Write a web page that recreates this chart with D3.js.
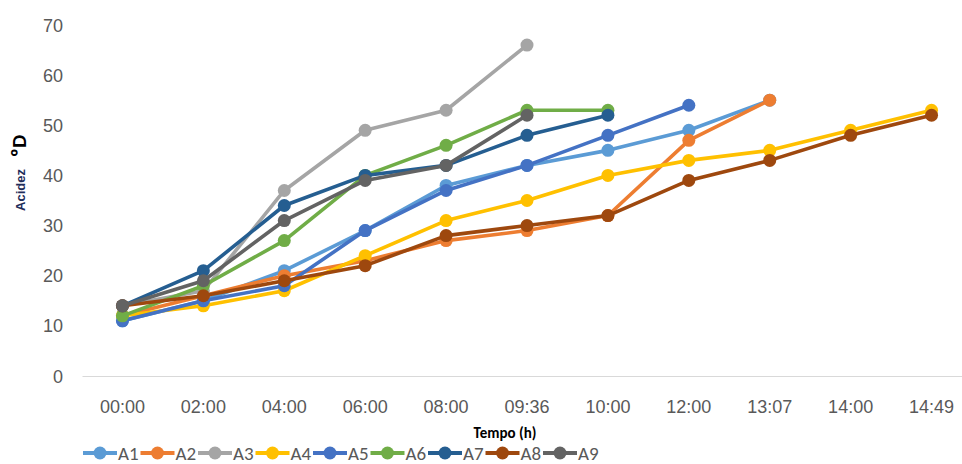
<!DOCTYPE html>
<html>
<head>
<meta charset="utf-8">
<script src="https://cdn.jsdelivr.net/npm/d3@7/dist/d3.min.js"></script>
<style>
  html, body { margin: 0; padding: 0; background: #fff; }
  svg { display: block; font-family: Calibri, Carlito, "Liberation Sans Narrow", "Liberation Sans", sans-serif; }
</style>
</head>
<body>
<svg id="chart" width="962" height="464"></svg>
<script>
// Sampling times (categorical axis)
const times = ["00:00", "02:00", "04:00", "06:00", "08:00", "09:36", "10:00", "12:00", "13:07", "14:00", "14:49"];
const yTicks = [0, 10, 20, 30, 40, 50, 60, 70];

// Acidity (ºD) per sample; series stop when readings stop
const A1 = [11, 15, 21, 29, 38, 42, 45, 49, 55];
const A2 = [12, 16, 20, 23, 27, 29, 32, 47, 55];
const A3 = [14, 17, 37, 49, 53, 66];
const A4 = [12, 14, 17, 24, 31, 35, 40, 43, 45, 49, 53];
const A5 = [11, 15, 18, 29, 37, 42, 48, 54];
const A6 = [12, 18, 27, 40, 46, 53, 53];
const A7 = [14, 21, 34, 40, 42, 48, 52];
const A8 = [14, 16, 19, 22, 28, 30, 32, 39, 43, 48, 52];
const A9 = [14, 19, 31, 39, 42, 52];

const seriesNames = ["A1", "A2", "A3", "A4", "A5", "A6", "A7", "A8", "A9"];
const seriesValues = [A1, A2, A3, A4, A5, A6, A7, A8, A9];
const colors = ["#5B9BD5", "#ED7D31", "#A5A5A5", "#FFC000", "#4472C4", "#70AD47", "#255E91", "#9E480E", "#636363"];

const svg = d3.select("#chart");

const x = d3.scaleBand().domain(times).range([82, 972]);
const y = d3.scaleLinear().domain([0, 70]).range([376, 25]);

// Y axis labels (no axis line)
const yAxis = d3.axisLeft(y).tickValues(yTicks).tickSize(0).tickPadding(0);
svg.append("g")
  .attr("transform", "translate(63,0)")
  .call(yAxis)
  .call(g => g.select(".domain").remove())
  .call(g => g.selectAll("text")
    .attr("fill", "#595959")
    .style("font-size", "18px")
    .attr("dy", "0.34em"));

// X axis
const xAxis = d3.axisBottom(x).tickSize(0).tickPadding(0);
svg.append("g")
  .attr("transform", "translate(0,376)")
  .call(xAxis)
  .call(g => g.select(".domain").attr("stroke", "#D9D9D9").attr("stroke-width", 1.2))
  .call(g => g.selectAll("text")
    .attr("fill", "#595959")
    .style("font-size", "18px")
    .attr("y", 31)
    .attr("dy", "0.34em"));

// Axis titles
svg.append("text")
  .attr("transform", "translate(20,190) rotate(-90)")
  .attr("text-anchor", "middle")
  .attr("dominant-baseline", "central")
  .attr("font-size", "13px").attr("font-weight", "bold").attr("fill", "#1F2D5A")
  .attr("font-family", "'Liberation Sans', Arial, sans-serif")
  .text("Acidez");
svg.append("text")
  .attr("transform", "translate(19,146) rotate(-90)")
  .attr("text-anchor", "middle")
  .attr("dominant-baseline", "central")
  .attr("font-size", "21px").attr("font-weight", "bold").attr("fill", "#000")
  .text("ºD");

svg.append("text")
  .attr("x", 505).attr("y", 433)
  .attr("text-anchor", "middle")
  .attr("dominant-baseline", "central")
  .attr("font-size", "15px").attr("font-weight", "bold").attr("fill", "#000")
  .text("Tempo (h)");

// Series lines and markers
const line = d3.line()
  .x((d, i) => x(times[i]) + x.bandwidth() / 2)
  .y(d => y(d));

seriesValues.forEach((vals, s) => {
  const g = svg.append("g");
  g.append("path")
    .datum(vals)
    .attr("fill", "none")
    .attr("stroke", colors[s])
    .attr("stroke-width", 3.6)
    .attr("stroke-linejoin", "round")
    .attr("d", line);
  g.selectAll("circle")
    .data(vals)
    .join("circle")
    .attr("cx", (d, i) => x(times[i]) + x.bandwidth() / 2)
    .attr("cy", d => y(d))
    .attr("r", 6.5)
    .attr("fill", colors[s]);
});

// Legend
const legend = svg.append("g").attr("transform", "translate(83,453)");
seriesNames.forEach((name, s) => {
  const item = legend.append("g").attr("transform", `translate(${s * 57.5},0)`);
  item.append("line")
    .attr("x1", 0).attr("x2", 34).attr("y1", 0).attr("y2", 0)
    .attr("stroke", colors[s]).attr("stroke-width", 3.8);
  item.append("circle").attr("cx", 17).attr("cy", 0).attr("r", 6.5).attr("fill", colors[s]);
  item.append("text")
    .attr("x", 35).attr("y", 0)
    .attr("dominant-baseline", "central")
    .attr("font-size", "19px").attr("fill", "#595959")
    .text(name);
});
</script>
</body>
</html>
